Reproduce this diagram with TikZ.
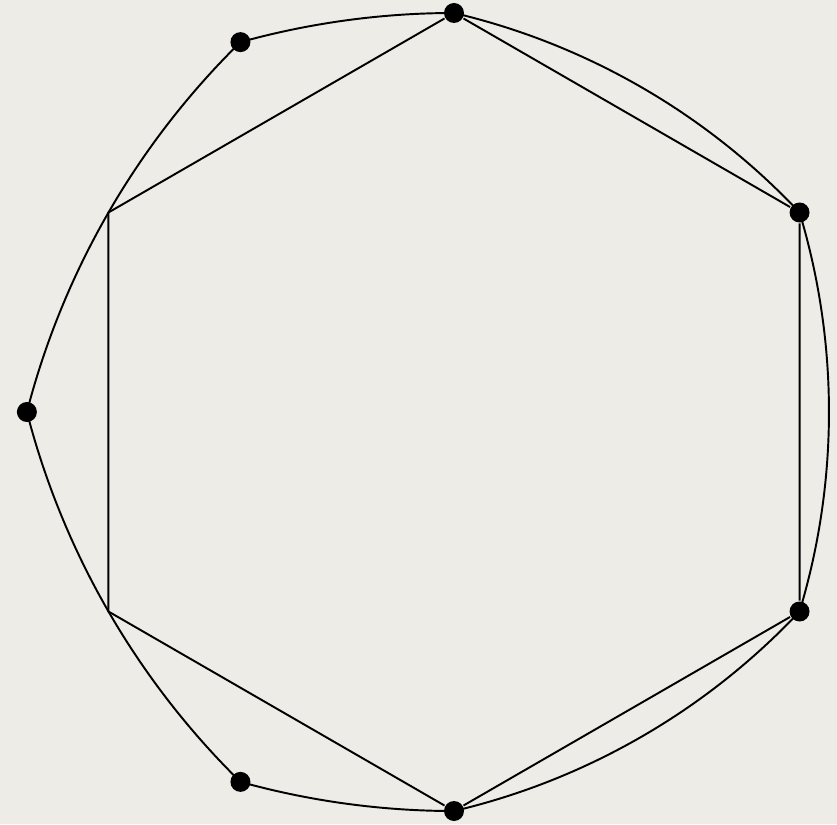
\documentclass[tikz,border=0pt]{standalone}
\definecolor{papel}{RGB}{237,236,230}
\begin{document}
\begin{tikzpicture}[line width=1.1pt, punto/.style={circle, fill=black, inner sep=0pt, minimum size=0.4cm}]
  % fondo
  \useasboundingbox[fill=papel] (-9.08,-8.24) rectangle (7.66,8.24);
  % vertices del hexagono
  \node[punto] (A) at (90:7.98) {};
  \node[punto] (B) at (30:7.98) {};
  \node[punto] (C) at (-30:7.98) {};
  \node[punto] (D) at (-90:7.98) {};
  \coordinate (E) at (-150:7.98);
  \coordinate (F) at (150:7.98);
  % puntos exteriores
  \node[punto] (P) at (120:8.542) {};
  \node[punto] (Q) at (180:8.542) {};
  \node[punto] (S) at (240:8.542) {};
  % hexagono
  \draw (A) -- (B) -- (C) -- (D) -- (E) -- (F) -- (A);
  % arcos izquierdos (radio 2R)
  \draw (A.center) arc[start angle=90, end angle=105.52, radius=15.96];
  \draw (P.center) arc[start angle=134.48, end angle=165.52, radius=15.96];
  \draw (Q.center) arc[start angle=194.48, end angle=225.52, radius=15.96];
  \draw (S.center) arc[start angle=254.48, end angle=270, radius=15.96];
  % arcos derechos
  \draw (B.center) arc[start angle=43.22, end angle=76.78, radius=13.822];
  \draw (C.center) arc[start angle=-16.78, end angle=16.78, radius=13.822];
  \draw (D.center) arc[start angle=-76.78, end angle=-43.22, radius=13.822];
\end{tikzpicture}
\end{document}
